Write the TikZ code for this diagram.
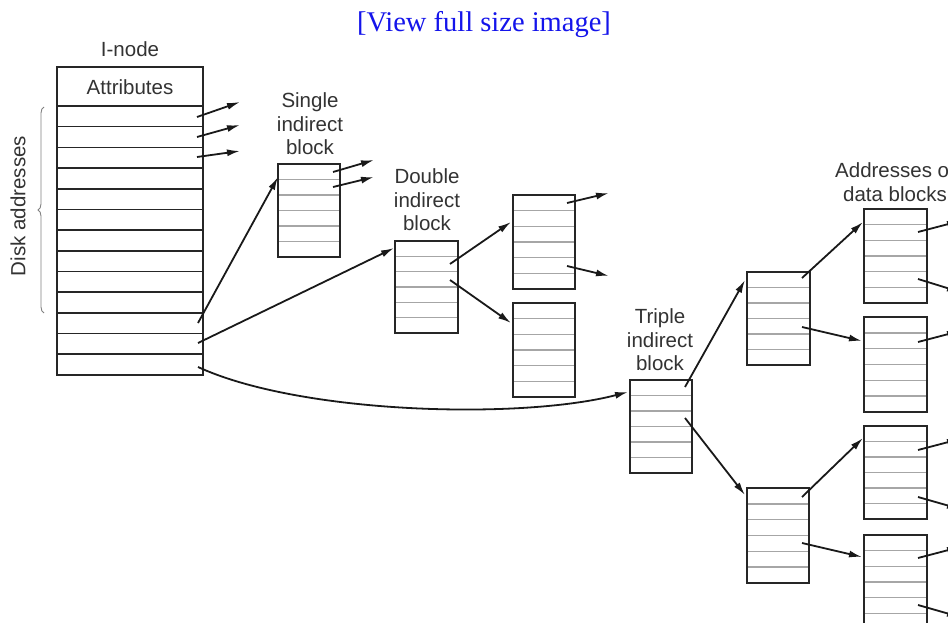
\documentclass[tikz,border=0pt]{standalone}
\usepackage{fontspec}
\setmainfont{Liberation Sans}
\newfontfamily\webserif{Liberation Serif}
\usetikzlibrary{arrows.meta,calc,decorations.pathreplacing}
\definecolor{linkblue}{RGB}{20,20,235}
\newcommand\fsblock[5]{%
  \node[blockbox, minimum width={#4-#2}, minimum height={#5-#3}] (#1) at ({(#2+#4)/2},{(#3+#5)/2}) {};
  \foreach \k in {1,...,5}{\draw[rowline] ($(#1.north west)!\k/6!(#1.south west)$) -- ($(#1.north east)!\k/6!(#1.south east)$);}
  \node[blockbox, minimum width={#4-#2}, minimum height={#5-#3}] at (#1) {};
}
\begin{document}
\begin{tikzpicture}[x=1pt,y=-1pt,
  blockbox/.style={draw=black!85, line width=2pt, rectangle, inner sep=0pt, outer sep=0pt},
  rowline/.style={draw=black!35, line width=1.6pt},
  inrow/.style={draw=black!85, line width=1.6pt},
  ptr/.style={draw=black!90, line width=1.8pt, -{Latex[length=13pt,width=7pt]}},
  lbl/.style={font=\fontsize{20.5}{23.5}\selectfont, text=black!80, align=center, inner sep=0pt},
]
\useasboundingbox (0,0) rectangle (948,623);
\fill[white] (0,0) rectangle (948,623);
\clip (0,0) rectangle (948,623);

% header link
\node[font=\webserif\fontsize{28.5}{32}\selectfont, text=linkblue, inner sep=0pt] (view) at (484,25) {[View full size image]};

% I-node
\node[lbl] (inodelbl) at (130,49) {I-node};
\node[blockbox, minimum width=146, minimum height=308] (inode) at (130,221) {};
\draw[inrow] ($(inode.north west)+(0,39)$) -- ($(inode.north east)+(0,39)$);
\foreach \k in {1,...,12}{\draw[inrow] (57,{106+\k*20.69}) -- (203,{106+\k*20.69});}
\node[lbl] (attr) at (130,87) {Attributes};

% brace + label
\coordinate (br1) at (44,313);
\coordinate (br2) at (44,107);
\draw[decorate, decoration={brace, amplitude=6pt}, draw=black!50, line width=0.9pt] (br1) -- (br2);
\node[lbl, rotate=90] (disk) at (18,206) {Disk addresses};

% direct pointers
\coordinate (d1s) at (197,117); \coordinate (d1e) at (240,102);
\coordinate (d2s) at (197,137); \coordinate (d2e) at (240,125);
\coordinate (d3s) at (197,157); \coordinate (d3e) at (240,151);
\draw[ptr] (d1s) -- (d1e);
\draw[ptr] (d2s) -- (d2e);
\draw[ptr] (d3s) -- (d3e);

% blocks
\fsblock{sib}{278}{164}{340}{257}
\fsblock{dib}{395}{241}{458}{333}
\fsblock{dba}{513}{195}{575}{289}
\fsblock{dbb}{513}{303}{575}{397}
\fsblock{tib}{630}{380}{692}{473}
\fsblock{tba}{747}{272}{810}{365}
\fsblock{tbb}{747}{488}{809}{583}
\fsblock{da}{864}{209}{927}{303}
\fsblock{db}{864}{317}{927}{412}
\fsblock{dc}{864}{426}{927}{519}
\fsblock{dd}{864}{535}{927}{629}

% labels
\node[lbl] (siblbl) at (310,124) {Single\\indirect\\block};
\node[lbl] (diblbl) at (427,200) {Double\\indirect\\block};
\node[lbl] (tiblbl) at (660,340) {Triple\\indirect\\block};
\node[lbl] (addrlbl) at (895,182) {Addresses of\\data blocks};

% inode -> indirect blocks
\coordinate (s1) at (198,323);
\coordinate (s2) at (198,343);
\coordinate (s3) at (198,367);
\draw[ptr] (s1) -- ($(sib.north west)+(0,13)$);
\draw[ptr] (s2) -- ($(dib.north west)+(-1,7)$);
\draw[ptr] (s3) .. controls (300,414) and (520,420) .. ($(tib.north west)+(-2,12)$);

% single indirect pointers
\coordinate (sa) at (333,172); \coordinate (sae) at (374,160);
\coordinate (sb) at (333,187); \coordinate (sbe) at (374,177);
\draw[ptr] (sa) -- (sae);
\draw[ptr] (sb) -- (sbe);

% double indirect
\coordinate (da1) at (450,264);
\coordinate (da2) at (450,280);
\draw[ptr] (da1) -- ($(dba.west)+(-2,-20)$);
\draw[ptr] (da2) -- ($(dbb.west)+(-2,-27)$);
\coordinate (dba1) at (567,203); \coordinate (dba1e) at (609,193);
\coordinate (dba2) at (567,266); \coordinate (dba2e) at (609,276);
\draw[ptr] (dba1) -- (dba1e);
\draw[ptr] (dba2) -- (dba2e);

% triple indirect
\coordinate (ta1) at (685,387);
\coordinate (ta2) at (685,418);
\draw[ptr] (ta1) -- ($(tba.north west)+(-2,8)$);
\draw[ptr] (ta2) -- ($(tbb.north west)+(-2,7)$);
\coordinate (t1a) at (802,278);
\coordinate (t1b) at (802,327);
\coordinate (t2a) at (802,497);
\coordinate (t2b) at (802,543);
\draw[ptr] (t1a) -- ($(da.north west)+(-1,13)$);
\draw[ptr] (t1b) -- ($(db.north west)+(-2,24)$);
\draw[ptr] (t2a) -- ($(dc.north west)+(-1,12)$);
\draw[ptr] (t2b) -- ($(dd.north west)+(-2,22)$);

% data pointers (cut at right edge)
\coordinate (oa1) at (918,232); \coordinate (oa1e) at (960,221);
\coordinate (oa2) at (918,279); \coordinate (oa2e) at (960,292);
\coordinate (ob1) at (918,342); \coordinate (ob1e) at (960,331);
\coordinate (oc1) at (918,450); \coordinate (oc1e) at (960,439);
\coordinate (oc2) at (918,497); \coordinate (oc2e) at (960,509);
\coordinate (od1) at (918,558); \coordinate (od1e) at (960,547);
\coordinate (od2) at (918,605); \coordinate (od2e) at (960,617);
\draw[ptr] (oa1) -- (oa1e);
\draw[ptr] (oa2) -- (oa2e);
\draw[ptr] (ob1) -- (ob1e);
\draw[ptr] (oc1) -- (oc1e);
\draw[ptr] (oc2) -- (oc2e);
\draw[ptr] (od1) -- (od1e);
\draw[ptr] (od2) -- (od2e);
\end{tikzpicture}
\end{document}
